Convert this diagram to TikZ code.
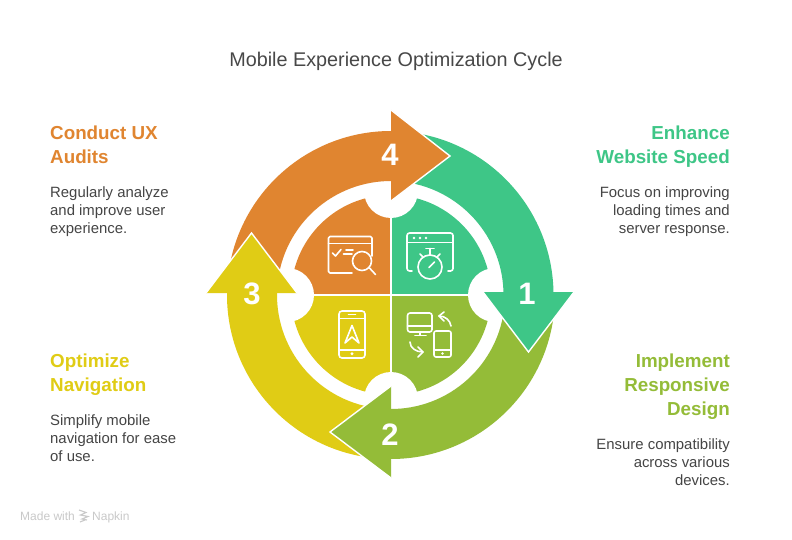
\documentclass[tikz,border=0pt]{standalone}
\usepackage{fontspec}
\setmainfont{Liberation Sans}
\definecolor{cOrange}{HTML}{E08530}
\definecolor{cGreen}{HTML}{3EC687}
\definecolor{cOlive}{HTML}{94BC38}
\definecolor{cYellow}{HTML}{E0CC15}
\definecolor{cTitle}{HTML}{484848}
\definecolor{cBody}{HTML}{454545}
\definecolor{cMark}{HTML}{C9C9C9}
\tikzset{
  x=1pt,y=1pt,
  titletext/.style={inner sep=0pt,text=cTitle,font=\fontsize{19.8}{24}\selectfont},
  headL/.style={inner sep=0pt,anchor=north west,align=left,font=\fontsize{18.8}{24}\selectfont\bfseries},
  headR/.style={inner sep=0pt,anchor=north east,align=right,font=\fontsize{18.8}{24}\selectfont\bfseries},
  bodyL/.style={inner sep=0pt,anchor=north west,align=left,text=cBody,font=\fontsize{14.9}{18}\selectfont},
  bodyR/.style={inner sep=0pt,anchor=north east,align=right,text=cBody,font=\fontsize{14.9}{18}\selectfont},
  digit/.style={inner sep=0pt,text=white,font=\fontsize{31}{31}\selectfont\bfseries},
  edge/.style={draw=white,line width=1.4pt,line join=miter},
  icon/.style={draw=white,line width=1.6pt,line cap=round,line join=round},
  markt/.style={inner sep=0pt,anchor=base west,text=cMark,font=\fontsize{12}{12}\selectfont},
}
\begin{document}
\begin{tikzpicture}
\useasboundingbox (0,0) rectangle (792,-540);
\fill[white] (0,0) rectangle (792,-540);

% inner quadrants
\begin{scope}[shift={(391,-295)}]
\fill[cOrange] (0,0) -- (180:100) arc[start angle=180,end angle=90,radius=100] -- cycle;
\fill[cGreen] (0,0) -- (90:100) arc[start angle=90,end angle=0,radius=100] -- cycle;
\fill[cOlive] (0,0) -- (0:100) arc[start angle=0,end angle=-90,radius=100] -- cycle;
\fill[cYellow] (0,0) -- (-90:100) arc[start angle=-90,end angle=-180,radius=100] -- cycle;
\draw[white,line width=2pt] (-101,0) -- (101,0);
\draw[white,line width=2pt] (0,-101) -- (0,101);
\fill[white] (0,104) circle[radius=27];
\fill[white] (104,0) circle[radius=27];
\fill[white] (0,-104) circle[radius=27];
\fill[white] (-104,0) circle[radius=27];
% ring bodies
\fill[cOrange] (175:164) arc[start angle=175,end angle=89,radius=164] -- (89:114) arc[start angle=89,end angle=175,radius=114] -- cycle;
\begin{scope}[xshift=-1.5]
\fill[cGreen] (85:164) arc[start angle=85,end angle=-1,radius=164] -- (-1:114) arc[start angle=-1,end angle=85,radius=114] -- cycle;
\end{scope}
\fill[cOlive] (-5:164) arc[start angle=-5,end angle=-91,radius=164] -- (-91:114) arc[start angle=-91,end angle=-5,radius=114] -- cycle;
\fill[cYellow] (-95:164) arc[start angle=-95,end angle=-181,radius=164] -- (-181:114) arc[start angle=-181,end angle=-95,radius=114] -- cycle;
\end{scope}

% arrow heads
\fill[cOrange] (391,-110) -- (450,-156) -- (391,-201) -- cycle;
\draw[edge] (391,-110) -- (450,-156) -- (391,-201);
\fill[cGreen] (483,-292) -- (528.5,-352) -- (574,-292) -- cycle;
\draw[edge] (483,-292) -- (528.5,-352) -- (574,-292);
\fill[cOlive] (391,-386) -- (330,-432) -- (391,-478) -- cycle;
\draw[edge] (391,-386) -- (330,-432) -- (391,-478);
\fill[cYellow] (206,-293) -- (251.5,-233) -- (297,-293) -- cycle;
\draw[edge] (206,-293) -- (251.5,-233) -- (297,-293);

% digits
\node[digit] (n4) at (390,-155) {4};
\node[digit] (n1) at (527,-294) {1};
\node[digit] (n2) at (390,-435) {2};
\node[digit] (n3) at (252,-294) {3};

% icon: audit window with magnifier
\draw[icon,rounded corners=1.5pt] (352,-273) -- (328.5,-273) -- (328.5,-236.5) -- (372,-236.5) -- (372,-256);
\draw[icon] (328.5,-243.5) -- (372,-243.5);
\draw[icon] (332.5,-253) -- (335.5,-256) -- (341,-249.5);
\draw[icon] (346,-250) -- (353,-250);
\draw[icon] (343.5,-254) -- (352,-254);
\draw[icon] (362,-261) circle[radius=9.5];
\draw[icon] (369.5,-268) -- (375.5,-274.5);

% icon: window with stopwatch
\draw[icon,rounded corners=2.5pt] (412,-271) -- (407,-271) -- (407,-233) -- (453,-233) -- (453,-271) -- (448,-271);
\draw[icon] (407,-242.5) -- (453,-242.5);
\fill[white] (414,-238) circle[radius=1.4];
\fill[white] (420,-238) circle[radius=1.4];
\fill[white] (426,-238) circle[radius=1.4];
\draw[icon] (430,-267) circle[radius=12];
\draw[icon] (430,-255) -- (430,-248.5);
\draw[icon] (426,-248.5) -- (434,-248.5);
\draw[icon] (420,-254) -- (423,-257);
\draw[icon] (440,-254) -- (437,-257);
\draw[icon] (429,-267.5) -- (434.5,-262);

% icon: phone with navigation arrow
\draw[icon,rounded corners=3pt] (339,-311) rectangle (365,-358);
\draw[icon] (339,-318.5) -- (365,-318.5);
\draw[icon] (339,-350) -- (365,-350);
\draw[icon] (348.5,-314.5) -- (355.5,-314.5);
\fill[white] (352,-353.8) circle[radius=1.6];
\draw[icon] (352,-325.5) -- (359,-343) -- (352,-337) -- (345,-343) -- cycle;

% icon: devices
\draw[icon,rounded corners=2.5pt] (407.5,-313) rectangle (432,-332);
\draw[icon] (407.5,-326) -- (432,-326);
\draw[icon] (420,-332) -- (420,-335);
\draw[icon] (415,-335.5) -- (426,-335.5);
\draw[icon,rounded corners=2pt] (434,-331) rectangle (451,-357);
\draw[icon] (434,-350) -- (451,-350);
\fill[white] (442.5,-353.5) circle[radius=1.4];
\draw[icon] (451,-326) .. controls (450,-320) and (445,-316) .. (439,-316);
\draw[icon] (444,-312) -- (439,-316) -- (444,-321);
\draw[icon] (410,-342) .. controls (410,-348) and (416,-352) .. (423,-352);
\draw[icon] (418,-347) -- (423,-352) -- (418,-357);

% texts
\node[titletext,anchor=base] (title) at (396,-67) {Mobile Experience Optimization Cycle};

\node[headL,text=cOrange] (h4) at (50,-125.3) {Conduct UX\\Audits};
\node[bodyL] (b4) at (50,-186.8) {Regularly analyze\\and improve user\\experience.};

\node[headR,text=cGreen] (h1) at (730,-125.3) {Enhance\\Website Speed};
\node[bodyR] (b1) at (730,-186.8) {Focus on improving\\loading times and\\server response.};

\node[headL,text=cYellow] (h3) at (50,-353.3) {Optimize\\Navigation};
\node[bodyL] (b3) at (50,-414.8) {Simplify mobile\\navigation for ease\\of use.};

\node[headR,text=cOlive] (h2) at (730,-353.3) {Implement\\Responsive\\Design};
\node[bodyR] (b2) at (730,-438.3) {Ensure compatibility\\across various\\devices.};

% watermark
\node[markt] (m1) at (20,-520) {Made with};
\draw[cMark,line width=1.1pt] (79,-510) -- (86,-512.5) -- (80.5,-515) -- (88,-516.5) -- (82,-519) -- (87,-520) (80,-522) -- (85,-520);
\node[markt] (m2) at (92,-520) {Napkin};
\end{tikzpicture}
\end{document}
